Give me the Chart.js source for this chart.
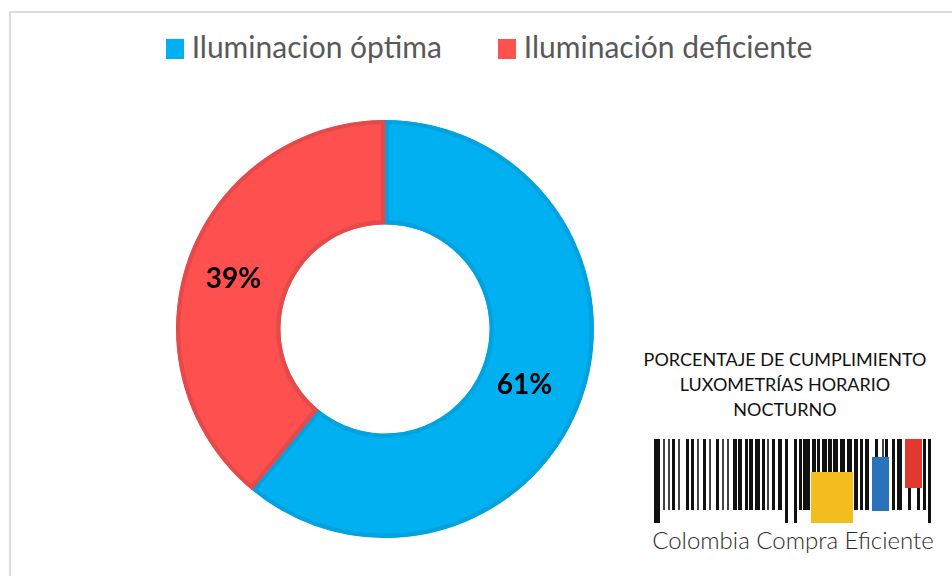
<!DOCTYPE html>
<html>
<head>
<meta charset="utf-8">
<script src="https://cdn.jsdelivr.net/npm/chart.js@4.4.1/dist/chart.umd.min.js"></script>
<style>
  body { margin: 0; background: #fff; width: 952px; height: 576px; overflow: hidden; position: relative; font-family: Lato, "Open Sans", sans-serif; }
  #frame { position: absolute; left: 9px; top: 11px; width: 1000px; height: 600px; border: 2px solid #dcdcdc; box-sizing: border-box; }
  #legend { position: absolute; top: 28px; left: 0; width: 978px; text-align: center; font-size: 30px; color: #595959; white-space: nowrap; }
  #legend span.item { display: inline-block; margin: 0 28px; }
  #legend span.box { display: inline-block; width: 18px; height: 20px; margin-right: 8px; vertical-align: -1px; }
  #chart-box { position: absolute; left: 176px; top: 120px; width: 418px; height: 418px; }
  #note { position: absolute; left: 630px; top: 347px; width: 310px; text-align: center; font-size: 18px; line-height: 25px; color: #111; }
  #logo { position: absolute; left: 654px; top: 439px; width: 280px; height: 86px; }
  #logo div { position: absolute; }
  #brand { position: absolute; left: 648px; top: 525px; width: 290px; text-align: center; font-size: 24px; font-weight: 300; color: #2b2b2b; white-space: nowrap; }
</style>
</head>
<body>
<div id="frame"></div>
<div id="legend"></div>
<div id="chart-box"><canvas id="result-chart"></canvas></div>
<div id="note">PORCENTAJE DE CUMPLIMIENTO<br>LUXOMETRÍAS HORARIO<br>NOCTURNO</div>
<div id="logo"></div>
<div id="brand">Colombia Compra Eficiente</div>
<script>
'use strict';

var chartNames = ['Iluminacion óptima', 'Iluminación deficiente'];
var chartData = [61, 39];
var chartColors = ['#00b0f0', '#ff5050'];
var chartBorders = ['#00a3dd', '#e44a4a'];

// legend
var legend = document.getElementById('legend');
for (var i = 0; i < chartNames.length; i++) {
    var item = document.createElement('span');
    item.className = 'item';
    var box = document.createElement('span');
    box.className = 'box';
    box.style.background = chartColors[i];
    item.appendChild(box);
    item.appendChild(document.createTextNode(chartNames[i]));
    legend.appendChild(item);
}

// logo bars [x, width, long]
var bars = [[0,6,1],[9,2,0],[14,2,0],[18,3,0],[24,2,0],[32,3,0],[37,3,0],[43,2,0],[49,3,0],[55,2,0],
    [62,3,0],[68,2,0],[73,2,0],[79,4,0],[84,4,0],[91,3,0],[95,4,0],[101,5,0],[108,3,0],[113,2,0],
    [118,3,0],[124,4,0],[131,3,1],[140,3,1],[145,3,0],[149,7,0],[158,4,0],[163,3,0],[168,5,0],[174,4,0],
    [179,5,0],[186,5,0],[193,5,0],[200,4,0],[206,3,0],[211,4,0],[221,3,0],[228,2,0],[231,3,0],[238,3,0],
    [243,5,0],[254,3,0],[263,3,0],[269,3,0],[274,3,1]];
var logo = document.getElementById('logo');
for (var b = 0; b < bars.length; b++) {
    var bar = document.createElement('div');
    bar.style.left = bars[b][0] + 'px';
    bar.style.top = '0px';
    bar.style.width = bars[b][1] + 'px';
    bar.style.height = (bars[b][2] ? 84 : 71) + 'px';
    bar.style.background = bars[b][1] <= 2 ? '#444' : '#111';
    logo.appendChild(bar);
}
var blocks = [[157,33,42,51,'#f2bd1d'],[218,18,17,54,'#2a72ba'],[251,0,17,49,'#e2382e']];
for (var k = 0; k < blocks.length; k++) {
    var blk = document.createElement('div');
    blk.style.left = blocks[k][0] + 'px';
    blk.style.top = blocks[k][1] + 'px';
    blk.style.width = blocks[k][2] + 'px';
    blk.style.height = blocks[k][3] + 'px';
    blk.style.background = blocks[k][4];
    logo.appendChild(blk);
}

// percent labels inside the ring
var percentLabels = {
    id: 'percentLabels',
    afterDatasetsDraw: function (chart) {
        var ctx = chart.ctx;
        var meta = chart.getDatasetMeta(0);
        ctx.save();
        ctx.font = 'bold 28px Lato, "Open Sans", sans-serif';
        ctx.fillStyle = '#000';
        ctx.textAlign = 'center';
        ctx.textBaseline = 'middle';
        meta.data.forEach(function (arc, idx) {
            var p = arc.tooltipPosition();
            ctx.fillText(chartData[idx] + '%', p.x - (idx === 0 ? 8 : 4), p.y + 3);
        });
        ctx.restore();
    }
};

var ctx = document.getElementById('result-chart').getContext('2d');
var chart = new Chart(ctx, {
    type: 'doughnut',
    data: {
        labels: chartNames,
        datasets: [{
            data: chartData,
            backgroundColor: chartColors,
            borderColor: chartBorders,
            borderWidth: 4,
            borderAlign: 'inner'
        }]
    },
    options: {
        responsive: true,
        maintainAspectRatio: false,
        animation: false,
        cutout: '50%',
        layout: { padding: 0 },
        plugins: {
            legend: { display: false },
            tooltip: { enabled: false }
        }
    },
    plugins: [percentLabels]
});
</script>
</body>
</html>
